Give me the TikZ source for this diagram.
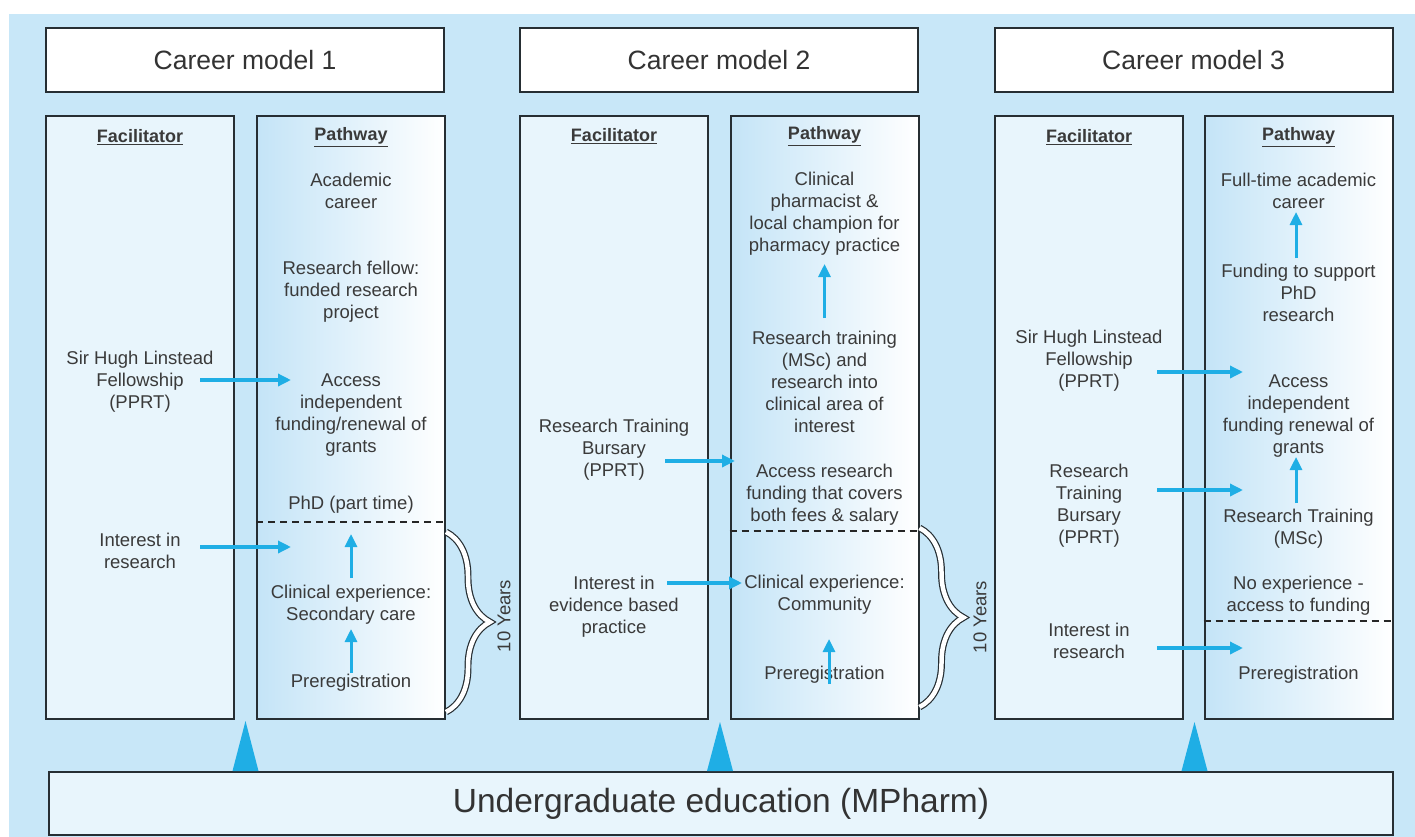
\documentclass[tikz,border=0pt]{standalone}
\usepackage{fontspec}
\setmainfont{Liberation Sans}
\usepackage{tikz}
\usetikzlibrary{arrows.meta,positioning,calc,decorations.pathreplacing}
\definecolor{fondo}{HTML}{C8E7F8}
\definecolor{pale}{HTML}{E8F5FC}
\definecolor{pathblue}{HTML}{C4E4F7}
\definecolor{cian}{HTML}{1FAEE5}
\definecolor{borde}{HTML}{262E33}
\definecolor{gristxt}{HTML}{3A3A3A}

\begin{document}
\begin{tikzpicture}[
          x=1pt, y=-1pt,
          font=\fontsize{18.5}{22}\selectfont,
          title/.style={draw=borde, line width=2pt, fill=white, minimum width=398pt, minimum height=64pt,
                        font=\fontsize{26.5}{30}\selectfont, text=black!80},
          facbox/.style={draw=borde, line width=2pt, fill=pale, minimum width=188pt, minimum height=603pt},
          pathbox/.style={draw=borde, line width=2pt, left color=pathblue, right color=white,
                          minimum width=188pt, minimum height=603pt},
          hd/.style={font=\fontsize{18}{22}\bfseries\selectfont, text=gristxt, inner sep=1pt},
          txt/.style={align=center, text=gristxt, inner sep=1pt},
          fl/.style={-{Triangle[length=13pt,width=12pt]}, draw=cian, line width=3.5pt},
          sep/.style={draw=black!85, line width=1.5pt, dash pattern=on 7pt off 5pt},
          llave/.style={decorate, decoration={brace, amplitude=44pt}, draw=borde, line width=1.2pt,
                        double=white, double distance=4.5pt},
          tri/.style={fill=cian}
        ]
        \useasboundingbox (0,0) rectangle (1415,837);
        \fill[fondo] (9,14) rectangle (1415,837);

        \node[title] (cm1) at (245,60) {Career model 1};
        \node[title] (cm2) at (719,60.5) {Career model 2};
        \node[title] (cm3) at (1193.5,60.5) {Career model 3};

        \node[facbox] (fac1) at (140,417.5) {};
        \node[pathbox] (path1) at (351,417.5) {};
        \node[facbox] (fac2) at (614,417.5) {};
        \node[pathbox] (path2) at (824.5,417.5) {};
        \node[facbox] (fac3) at (1089,417.5) {};
        \node[pathbox] (path3) at (1298.5,417.5) {};

        \node[draw=borde, line width=2pt, fill=pale, minimum width=1344pt, minimum height=63pt,
              font=\fontsize{33.5}{38}\selectfont, text=black!80] (ug) at (721,803.5) {Undergraduate education (MPharm)};

        \coordinate (d1) at (0,522);
        \coordinate (d2) at (0,531);
        \coordinate (d3) at (0,621);
        \draw[sep] (path1.west |- d1) -- (path1.east |- d1);
        \draw[sep] (path2.west |- d2) -- (path2.east |- d2);
        \draw[sep] (path3.west |- d3) -- (path3.east |- d3);

        \node[hd] (fh1) at (140,137) {\underline{Facilitator}};
        \node[hd] (ph1) at (351,137) {\underline{Pathway}};
        \node[txt] (acad1) at (351,191) {Academic\\career};
        \node[txt] (fel1) at (351,292) {Research fellow:\\funded research\\project};
        \node[txt] (acc1) at (351,415) {Access\\independent\\funding/renewal of\\grants};
        \node[txt] (phd1) at (351,505) {PhD (part time)};
        \node[txt] (clin1) at (351,605) {Clinical experience:\\Secondary care};
        \node[txt] (pre1) at (351,683) {Preregistration};
        \node[txt] (sir1) at (140,382) {Sir Hugh Linstead\\Fellowship\\(PPRT)};
        \node[txt] (int1) at (140,551) {Interest in\\research};

        \node[hd] (fh2) at (614,136) {\underline{Facilitator}};
        \node[hd] (ph2) at (824.5,136) {\underline{Pathway}};
        \node[txt] (champ2) at (824.5,214) {Clinical\\pharmacist \&\\local champion for\\pharmacy practice};
        \node[txt] (rt2) at (824.5,382) {Research training\\(MSc) and\\research into\\clinical area of\\interest};
        \node[txt] (acc2) at (824.5,495) {Access research\\funding that covers\\both fees \& salary};
        \node[txt] (clin2) at (824.5,595) {Clinical experience:\\Community};
        \node[txt] (pre2) at (824.5,675) {Preregistration};
        \node[txt] (bur2) at (614,450) {Research Training\\Bursary\\(PPRT)};
        \node[txt] (int2) at (614,607) {Interest in\\evidence based\\practice};

        \node[hd] (fh3) at (1089,137) {\underline{Facilitator}};
        \node[hd] (ph3) at (1298.5,137) {\underline{Pathway}};
        \node[txt] (full3) at (1298.5,191) {Full-time academic\\career};
        \node[txt] (fund3) at (1298.5,293) {Funding to support\\PhD\\research};
        \node[txt] (acc3) at (1298.5,416) {Access\\independent\\funding renewal of\\grants};
        \node[txt] (rt3) at (1298.5,529) {Research Training\\(MSc)};
        \node[txt] (no3) at (1298.5,596) {No experience -\\access to funding};
        \node[txt] (pre3) at (1298.5,675) {Preregistration};
        \node[txt] (sir3) at (1089,361) {Sir Hugh Linstead\\Fellowship\\(PPRT)};
        \node[txt] (bur3) at (1089,506) {Research\\Training\\Bursary\\(PPRT)};
        \node[txt] (int3) at (1089,641) {Interest in\\research};

        \coordinate (a1) at (200,380);
        \coordinate (b1) at (291,380);
        \coordinate (a2) at (200,547);
        \coordinate (b2) at (291,547);
        \coordinate (a3) at (665,461);
        \coordinate (b3) at (735,461);
        \coordinate (a4) at (667,583);
        \coordinate (b4) at (742,583);
        \coordinate (a5) at (1157,372);
        \coordinate (b5) at (1243,372);
        \coordinate (a6) at (1157,490);
        \coordinate (b6) at (1243,490);
        \coordinate (a7) at (1157,648);
        \coordinate (b7) at (1243,648);
        \draw[fl] (a1) -- (b1);
        \draw[fl] (a2) -- (b2);
        \draw[fl] (a3) -- (b3);
        \draw[fl] (a4) -- (b4);
        \draw[fl] (a5) -- (b5);
        \draw[fl] (a6) -- (b6);
        \draw[fl] (a7) -- (b7);

        \coordinate (u1) at (351,578);
        \coordinate (v1) at (351,534);
        \coordinate (u2) at (351,673);
        \coordinate (v2) at (351,629);
        \coordinate (u3) at (824.5,318);
        \coordinate (v3) at (824.5,264);
        \coordinate (u4) at (829,684);
        \coordinate (v4) at (829,639);
        \coordinate (u5) at (1296,258);
        \coordinate (v5) at (1296,212);
        \coordinate (u6) at (1296,503);
        \coordinate (v6) at (1296,457);
        \draw[fl, line width=3pt] (u1) -- (v1);
        \draw[fl, line width=3pt] (u2) -- (v2);
        \draw[fl, line width=3pt] (u3) -- (v3);
        \draw[fl, line width=3pt] (u4) -- (v4);
        \draw[fl, line width=3pt] (u5) -- (v5);
        \draw[fl, line width=3pt] (u6) -- (v6);

        \draw[llave] (path1.east |- 0,532) -- (path1.east |- 0,712);
        \draw[llave] (path2.east |- 0,528) -- (path2.east |- 0,707);
        \node[rotate=90, text=gristxt, inner sep=1pt] (yr1) at (504,616) {10 Years};
        \node[rotate=90, text=gristxt, inner sep=1pt] (yr2) at (980,617) {10 Years};

        \fill[tri] (232.5,771) -- (245.5,721) -- (258.5,771) -- cycle;
        \fill[tri] (707,771) -- (720,722) -- (733,771) -- cycle;
        \fill[tri] (1181.5,771) -- (1194.5,722) -- (1207.5,771) -- cycle;
      \end{tikzpicture}
\end{document}
